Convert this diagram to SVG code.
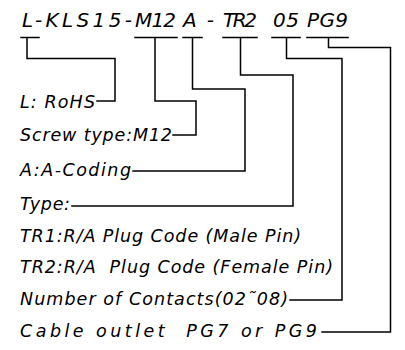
<svg xmlns="http://www.w3.org/2000/svg" width="405" height="350" viewBox="0 0 405 350">
<style>
  text { font-family: "DejaVu Sans", "Liberation Sans", sans-serif; font-style: oblique; fill: #000; white-space: pre; }
  .t { font-size: 20px; }
  .l { font-size: 17.5px; }
  .c { fill: none; stroke: #000; stroke-width: 1.5; stroke-linecap: square; }
</style>
<rect width="405" height="350" fill="#fff"/>
<g id="title">
  <text class="t" x="22" y="27" textLength="110" lengthAdjust="spacing">L-KLS15-</text>
  <text class="t" x="135" y="27" textLength="41" lengthAdjust="spacing">M12</text>
  <text class="t" x="183" y="27" textLength="31" lengthAdjust="spacing">A-</text>
  <text class="t" x="223" y="27" textLength="34" lengthAdjust="spacing">TR2</text>
  <text class="t" x="273" y="27" textLength="26" lengthAdjust="spacing">05</text>
  <text class="t" x="307" y="27" textLength="41" lengthAdjust="spacing">PG9</text>
</g>
<g id="connectors">
  <path class="c" d="M21 37.5H39M27 37.5V58.5H115V101H97"/>
  <path class="c" d="M135 37.5H177M155 37.5V101H196V135H173"/>
  <path class="c" d="M183 37.5H202M192.5 37.5V89H245V171H133"/>
  <path class="c" d="M223 37.5H257M240.5 37.5V75H293V206H72"/>
  <path class="c" d="M272 37.5H300M286.5 37.5V58.5H342V300H290"/>
  <path class="c" d="M307 37.5H348M328.5 37.5V47.5H390.5V332H322"/>
</g>
<g id="rohs"><text class="l" x="20" y="108" textLength="75" lengthAdjust="spacing">L: RoHS</text></g>
<g id="screw"><text class="l" x="20" y="141" textLength="152" lengthAdjust="spacing">Screw type:M12</text></g>
<g id="coding"><text class="l" x="20" y="176" textLength="111" lengthAdjust="spacing">A:A-Coding</text></g>
<g id="type"><text class="l" x="20" y="210" textLength="50" lengthAdjust="spacing">Type:</text></g>
<g id="tr1"><text class="l" x="20" y="242" textLength="281" lengthAdjust="spacing">TR1:R/A Plug Code (Male Pin)</text></g>
<g id="tr2"><text class="l" x="20" y="273" textLength="313" lengthAdjust="spacing">TR2:R/A  Plug Code (Female Pin)</text></g>
<g id="contacts"><text class="l" x="20" y="305" textLength="268" lengthAdjust="spacing">Number of Contacts(02˜08)</text></g>
<g id="cable"><text class="l" x="20" y="337" textLength="297" lengthAdjust="spacing">Cable outlet  PG7 or PG9</text></g>
</svg>
